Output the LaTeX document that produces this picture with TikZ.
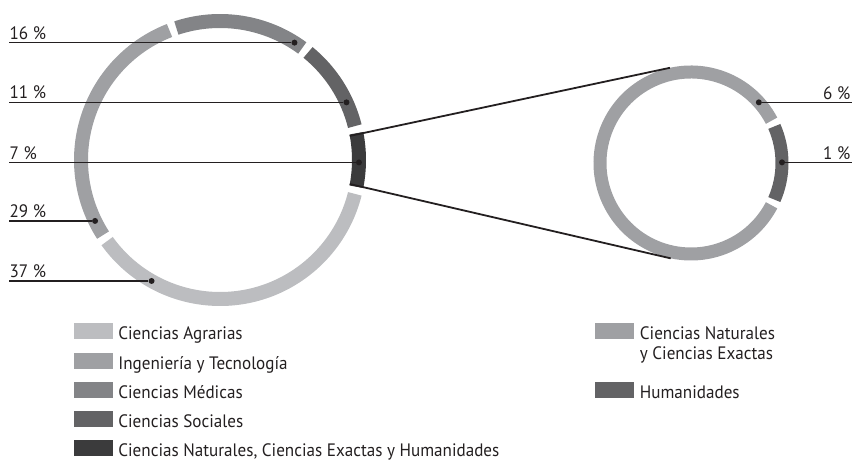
\documentclass[tikz,border=0pt]{standalone}
\usepackage{fontspec}
\setmainfont{PT Sans}[FakeStretch=0.95]
\usetikzlibrary{positioning, calc}
\definecolor{agrarias}{HTML}{BCBDC0}
\definecolor{ingenieria}{HTML}{9FA0A3}
\definecolor{medicas}{HTML}{838487}
\definecolor{sociales}{HTML}{636365}
\definecolor{naturales}{HTML}{3B3B3C}
\definecolor{ink}{HTML}{231F20}
\newcommand{\txt}{\fontsize{18}{20}\selectfont}

\begin{document}
\begin{tikzpicture}[x=1pt, y=1pt,
  seg/.style={line width=14pt},
  segsmall/.style={line width=13pt},
  lead/.style={draw=ink, line width=1.3pt},
  zoomline/.style={draw=ink, line width=1.8pt},
  dot/.style={circle, fill=ink, inner sep=0pt, minimum size=6pt},
  pct/.style={anchor=south west, inner sep=0pt, yshift=2.5pt, font=\txt, text=ink},
  swatch/.style={minimum width=39pt, minimum height=16pt, inner sep=0pt},
  legtext/.style={anchor=base west, inner sep=0pt, font=\txt, text=ink, align=left},
]
  \useasboundingbox (0,0) rectangle (852,462);
  \coordinate (L) at (220,302);
  \coordinate (R) at (691,299);
  \coordinate (lx) at (9,0);
  \coordinate (rx) at (852,0);
  \coordinate (rlx) at (823,0);

  % big ring
  \foreach \c/\a/\b in {naturales/-12.6/12.6, sociales/12.6/52.2, medicas/52.2/109.8,
                        ingenieria/109.8/214.2, agrarias/214.2/347.4}
    \draw[seg, \c] ([shift={(\a+1.5:139)}]L) arc[start angle=\a+1.5, end angle=\b-1.5, radius=139];

  % small ring
  \draw[segsmall, ingenieria] ([shift={(27.7:91)}]R) arc[start angle=27.7, end angle=332.3, radius=91];
  \draw[segsmall, sociales] ([shift={(-23.7:91)}]R) arc[start angle=-23.7, end angle=23.7, radius=91];

  % zoom lines
  \coordinate (zt) at ([shift={(10.5:132)}]L);
  \coordinate (zb) at ([shift={(-10.5:132)}]L);
  \coordinate (rt) at ([shift={(102.5:97.5)}]R);
  \coordinate (rb) at ([shift={(258:97.5)}]R);
  \path[zoomline] (zt) edge (rt) (zb) edge (rb);

  % dots and labels
  \node[dot] (d16) at ([shift={(57.6:139)}]L) {};
  \node[dot] (d11) at ([shift={(24.5:139)}]L) {};
  \node[dot] (d7)  at ([shift={(-1:139)}]L) {};
  \node[dot] (d29) at ([shift={(206:139)}]L) {};
  \node[dot] (d37) at ([shift={(240.5:139)}]L) {};
  \node[dot] (d6)  at ([shift={(41.8:91)}]R) {};
  \node[dot] (d1)  at ([shift={(0.4:91)}]R) {};

  \draw[lead] (d16) -- (d16 -| lx) node[pct] (p16) {16 \%};
  \draw[lead] (d11) -- (d11 -| lx) node[pct] (p11) {11 \%};
  \draw[lead] (d7)  -- (d7 -| lx)  node[pct] (p7)  {7 \%};
  \draw[lead] (d29) -- (d29 -| lx) node[pct] (p29) {29 \%};
  \draw[lead] (d37) -- (d37 -| lx) node[pct] (p37) {37 \%};
  \draw[lead] (d6) -- (d6 -| rx);
  \draw[lead] (d1) -- (d1 -| rx);
  \node[pct] (p6) at (d6 -| rlx) {6 \%};
  \node[pct] (p1) at (d1 -| rlx) {1 \%};

  % legend
  \node[swatch, fill=agrarias]   (sw1) at (93.5,131) {};
  \node[swatch, fill=ingenieria] (sw2) at (93.5,101) {};
  \node[swatch, fill=medicas]    (sw3) at (93.5,72)  {};
  \node[swatch, fill=sociales]   (sw4) at (93.5,43)  {};
  \node[swatch, fill=naturales]  (sw5) at (93.5,14)  {};
  \node[legtext] (lg1) at ([xshift=5pt]sw1.south east) {Ciencias Agrarias};
  \node[legtext] (lg2) at ([xshift=5pt]sw2.south east) {Ingeniería y Tecnología};
  \node[legtext] (lg3) at ([xshift=5pt]sw3.south east) {Ciencias Médicas};
  \node[legtext] (lg4) at ([xshift=5pt]sw4.south east) {Ciencias Sociales};
  \node[legtext] (lg5) at ([xshift=5pt]sw5.south east) {Ciencias Naturales, Ciencias Exactas y Humanidades};

  \node[swatch, fill=ingenieria] (sw6) at (614,131) {};
  \node[swatch, fill=sociales]   (sw7) at (614,72)  {};
  \node[legtext] (lg6) at ([xshift=6pt, yshift=-20pt]sw6.south east) {Ciencias Naturales\\y Ciencias Exactas};
  \node[legtext] (lg7) at ([xshift=6pt]sw7.south east) {Humanidades};
\end{tikzpicture}
\end{document}
